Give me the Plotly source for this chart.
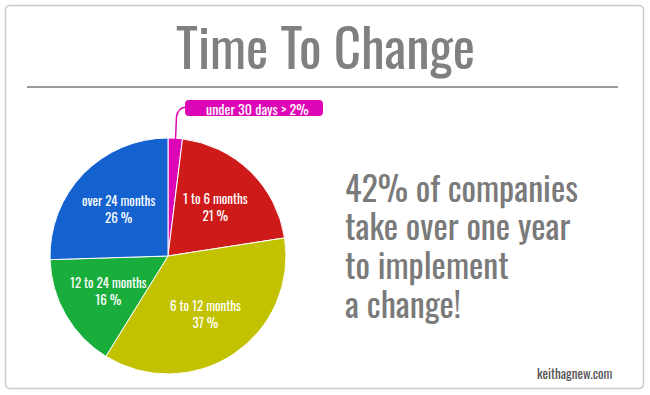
import math
import plotly.graph_objects as go

W, H = 650, 395

labels = ["under 30 days", "1 to 6 months", "6 to 12 months", "12 to 24 months", "over 24 months"]
values = [2, 21, 37, 16, 26]
colors = ["#dd06b6", "#cf1a1a", "#c3c200", "#19ad3c", "#1462cf"]
title_text = "Time To Change"
side_lines = ["42% of companies", "take over one year", "to implement", "a change!"]
callout_text = "under 30 days > 2%"
credit = "keithagnew.com"

FONT = "Oswald, Roboto Condensed, sans-serif"


def px(x):
    return x / W


def py(y):
    return 1 - y / H


def rounded_rect(x0, y0, x1, y1, rc):
    return (f"M {px(x0+rc)},{py(y0)} L {px(x1-rc)},{py(y0)} Q {px(x1)},{py(y0)} {px(x1)},{py(y0+rc)} "
            f"L {px(x1)},{py(y1-rc)} Q {px(x1)},{py(y1)} {px(x1-rc)},{py(y1)} "
            f"L {px(x0+rc)},{py(y1)} Q {px(x0)},{py(y1)} {px(x0)},{py(y1-rc)} "
            f"L {px(x0)},{py(y0+rc)} Q {px(x0)},{py(y0)} {px(x0+rc)},{py(y0)} Z")


cx, cy, r = 168, 256, 118

fig = go.Figure(go.Pie(
    labels=labels,
    values=values,
    sort=False,
    direction="clockwise",
    rotation=0,
    marker=dict(colors=colors, line=dict(color="white", width=1)),
    textinfo="none",
    hoverinfo="label+value",
    showlegend=False,
    domain=dict(x=[px(cx - r), px(cx + r)], y=[py(cy + r), py(cy - r)]),
))

shapes = [
    dict(type="path", xref="paper", yref="paper", path=rounded_rect(5.5, 5.5, 643.5, 388.5, 5),
         line=dict(color="#cccccc", width=1.5)),
    dict(type="line", xref="paper", yref="paper",
         x0=px(27), x1=px(618), y0=py(87), y1=py(87),
         line=dict(color="#9a9a9a", width=2)),
    # callout box and leader
    dict(type="path", xref="paper", yref="paper", path=rounded_rect(185, 100, 323, 116, 4),
         fillcolor="#dd06b6", line=dict(width=0)),
    dict(type="path", xref="paper", yref="paper",
         path=f"M {px(175.5)},{py(139)} L {px(176.5)},{py(117)} Q {px(177.5)},{py(108)} {px(186)},{py(107)}",
         line=dict(color="#dd06b6", width=1.5)),
]

annotations = [
    dict(text=title_text, x=0.5, y=py(45), xref="paper", yref="paper",
         showarrow=False, xanchor="center", yanchor="middle",
         font=dict(family=FONT, size=53, color="#808080")),
    dict(text=callout_text, x=px(257), y=py(108), xref="paper", yref="paper",
         showarrow=False, xanchor="center", yanchor="middle",
         font=dict(family=FONT, size=14, color="white")),
    dict(text=credit, x=px(615), y=py(373), xref="paper", yref="paper",
         showarrow=False, xanchor="right", yanchor="middle",
         font=dict(family=FONT, size=13, color="#555555")),
]

# slice labels placed on each slice's bisector (derived from the data)
total = sum(values)
cum = 0
for lab, v in zip(labels, values):
    mid = (cum + v / 2) / total * 2 * math.pi
    cum += v
    if v < 5:
        continue
    lx = cx + 0.58 * r * math.sin(mid)
    ly = cy - 0.58 * r * math.cos(mid)
    annotations.append(dict(text=f"{lab}<br>{v} %", x=px(lx), y=py(ly), xref="paper", yref="paper",
                            showarrow=False, xanchor="center", yanchor="middle",
                            font=dict(family=FONT, size=13, color="white")))

for i, line in enumerate(side_lines):
    annotations.append(dict(text=line, x=px(343), y=py(186 + i * 38.7), xref="paper", yref="paper",
                            showarrow=False, xanchor="left", yanchor="middle",
                            font=dict(family=FONT, size=34, color="#7a7a7a")))

fig.update_layout(
    width=W, height=H,
    margin=dict(l=0, r=0, t=0, b=0),
    paper_bgcolor="white", plot_bgcolor="white",
    shapes=shapes, annotations=annotations,
)

fig.write_html("out.html", config={"displayModeBar": False},
               post_script="document.body.style.margin='0';")
